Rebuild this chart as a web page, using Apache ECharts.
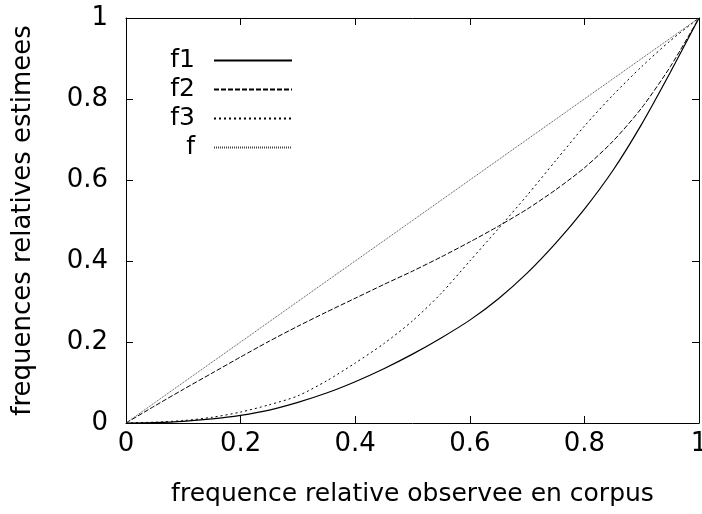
<!DOCTYPE html>
<html>
<head>
<meta charset="utf-8">
<script src="https://cdn.jsdelivr.net/npm/echarts@6/dist/echarts.min.js"></script>
<style>html,body{margin:0;padding:0;background:#fff}#c{width:702px;height:514px}</style>
</head>
<body>
<div id="c"></div>
<script>
var xs = [0,0.05,0.1,0.15,0.2,0.25,0.3,0.35,0.4,0.45,0.5,0.55,0.6,0.65,0.7,0.75,0.8,0.85,0.9,0.95,1];
var f1 = [0,0.001,0.004,0.010,0.019,0.032,0.051,0.074,0.102,0.134,0.170,0.210,0.254,0.307,0.370,0.444,0.528,0.624,0.738,0.866,1];
var f2 = [0,0.042,0.083,0.123,0.163,0.202,0.239,0.274,0.308,0.342,0.375,0.410,0.447,0.486,0.528,0.576,0.630,0.696,0.778,0.880,1];
var f3 = [0,0.002,0.006,0.014,0.027,0.045,0.067,0.104,0.148,0.196,0.252,0.320,0.400,0.480,0.562,0.648,0.733,0.810,0.880,0.944,1];
var f  = [0,0.05,0.1,0.15,0.2,0.25,0.3,0.35,0.4,0.45,0.5,0.55,0.6,0.65,0.7,0.75,0.8,0.85,0.9,0.95,1];
var names = ['f1','f2','f3','f'];
var xName = 'frequence relative observee en corpus';
var yName = 'frequences relatives estimees';

function pts(ys){ return xs.map(function(x,i){ return [x, ys[i]]; }); }
var FONT = 'DejaVu Sans';
function fmt(v){ return String(+v.toFixed(1)); }

var chart = echarts.init(document.getElementById('c'), null, {renderer:'canvas'});
var axisLine = {show:true, onZero:false, lineStyle:{color:'#000', width:1}};
var axisTick = {show:true, inside:true, length:7, lineStyle:{color:'#000', width:1}};
chart.setOption({
  animation:false,
  backgroundColor:'#fff',
  grid:{left:126, right:3, top:18, bottom:91, show:false, containLabel:false, outerBoundsMode:'none'},
  legend:{
    orient:'vertical', left:154, top:43, align:'right',
    itemWidth:78, itemHeight:14, itemGap:4,
    data:names,
    itemStyle:{opacity:0},
    formatter:function(n){ return '{a|' + n + '}'; },
    textStyle:{fontFamily:FONT, fontSize:25, color:'#000',
      rich:{a:{fontFamily:FONT, fontSize:25, color:'#000', width:36, align:'right', lineHeight:29, padding:[0,14,0,0]}}}
  },
  xAxis:[{
    type:'value', min:0, max:1, interval:0.2, position:'bottom',
    name:xName, nameLocation:'middle', nameGap:59,
    nameTextStyle:{fontFamily:FONT, fontSize:25, color:'#000'},
    axisLine:axisLine, axisTick:axisTick, splitLine:{show:false},
    axisLabel:{fontFamily:FONT, fontSize:26, color:'#000', margin:8, formatter:fmt}
  },{
    type:'value', min:0, max:1, interval:0.2, position:'top',
    axisLine:axisLine, axisTick:axisTick, splitLine:{show:false}, axisLabel:{show:false}
  }],
  yAxis:[{
    type:'value', min:0, max:1, interval:0.2, position:'left',
    name:yName, nameLocation:'middle', nameGap:90,
    nameTextStyle:{fontFamily:FONT, fontSize:26, color:'#000'},
    axisLine:axisLine, axisTick:axisTick, splitLine:{show:false},
    axisLabel:{fontFamily:FONT, fontSize:26, color:'#000', margin:18, formatter:fmt}
  },{
    type:'value', min:0, max:1, interval:0.2, position:'right',
    axisLine:axisLine, axisTick:axisTick, splitLine:{show:false}, axisLabel:{show:false}
  }],
  series:[
    {name:'f1', type:'line', data:pts(f1), symbol:'none', smooth:0.25,
     lineStyle:{color:'#000', width:1.2, type:'solid'}, itemStyle:{color:'#000'}},
    {name:'f2', type:'line', data:pts(f2), symbol:'none', smooth:0.25,
     lineStyle:{color:'#000', width:1, type:[5,2]}, itemStyle:{color:'#000'}},
    {name:'f3', type:'line', data:pts(f3), symbol:'none', smooth:0.25,
     lineStyle:{color:'#000', width:1, type:[2,3]}, itemStyle:{color:'#000'}},
    {name:'f', type:'line', data:pts(f), symbol:'none',
     lineStyle:{color:'#444', width:1, type:[1,1]}, itemStyle:{color:'#444'}}
  ]
});
</script>
</body>
</html>
